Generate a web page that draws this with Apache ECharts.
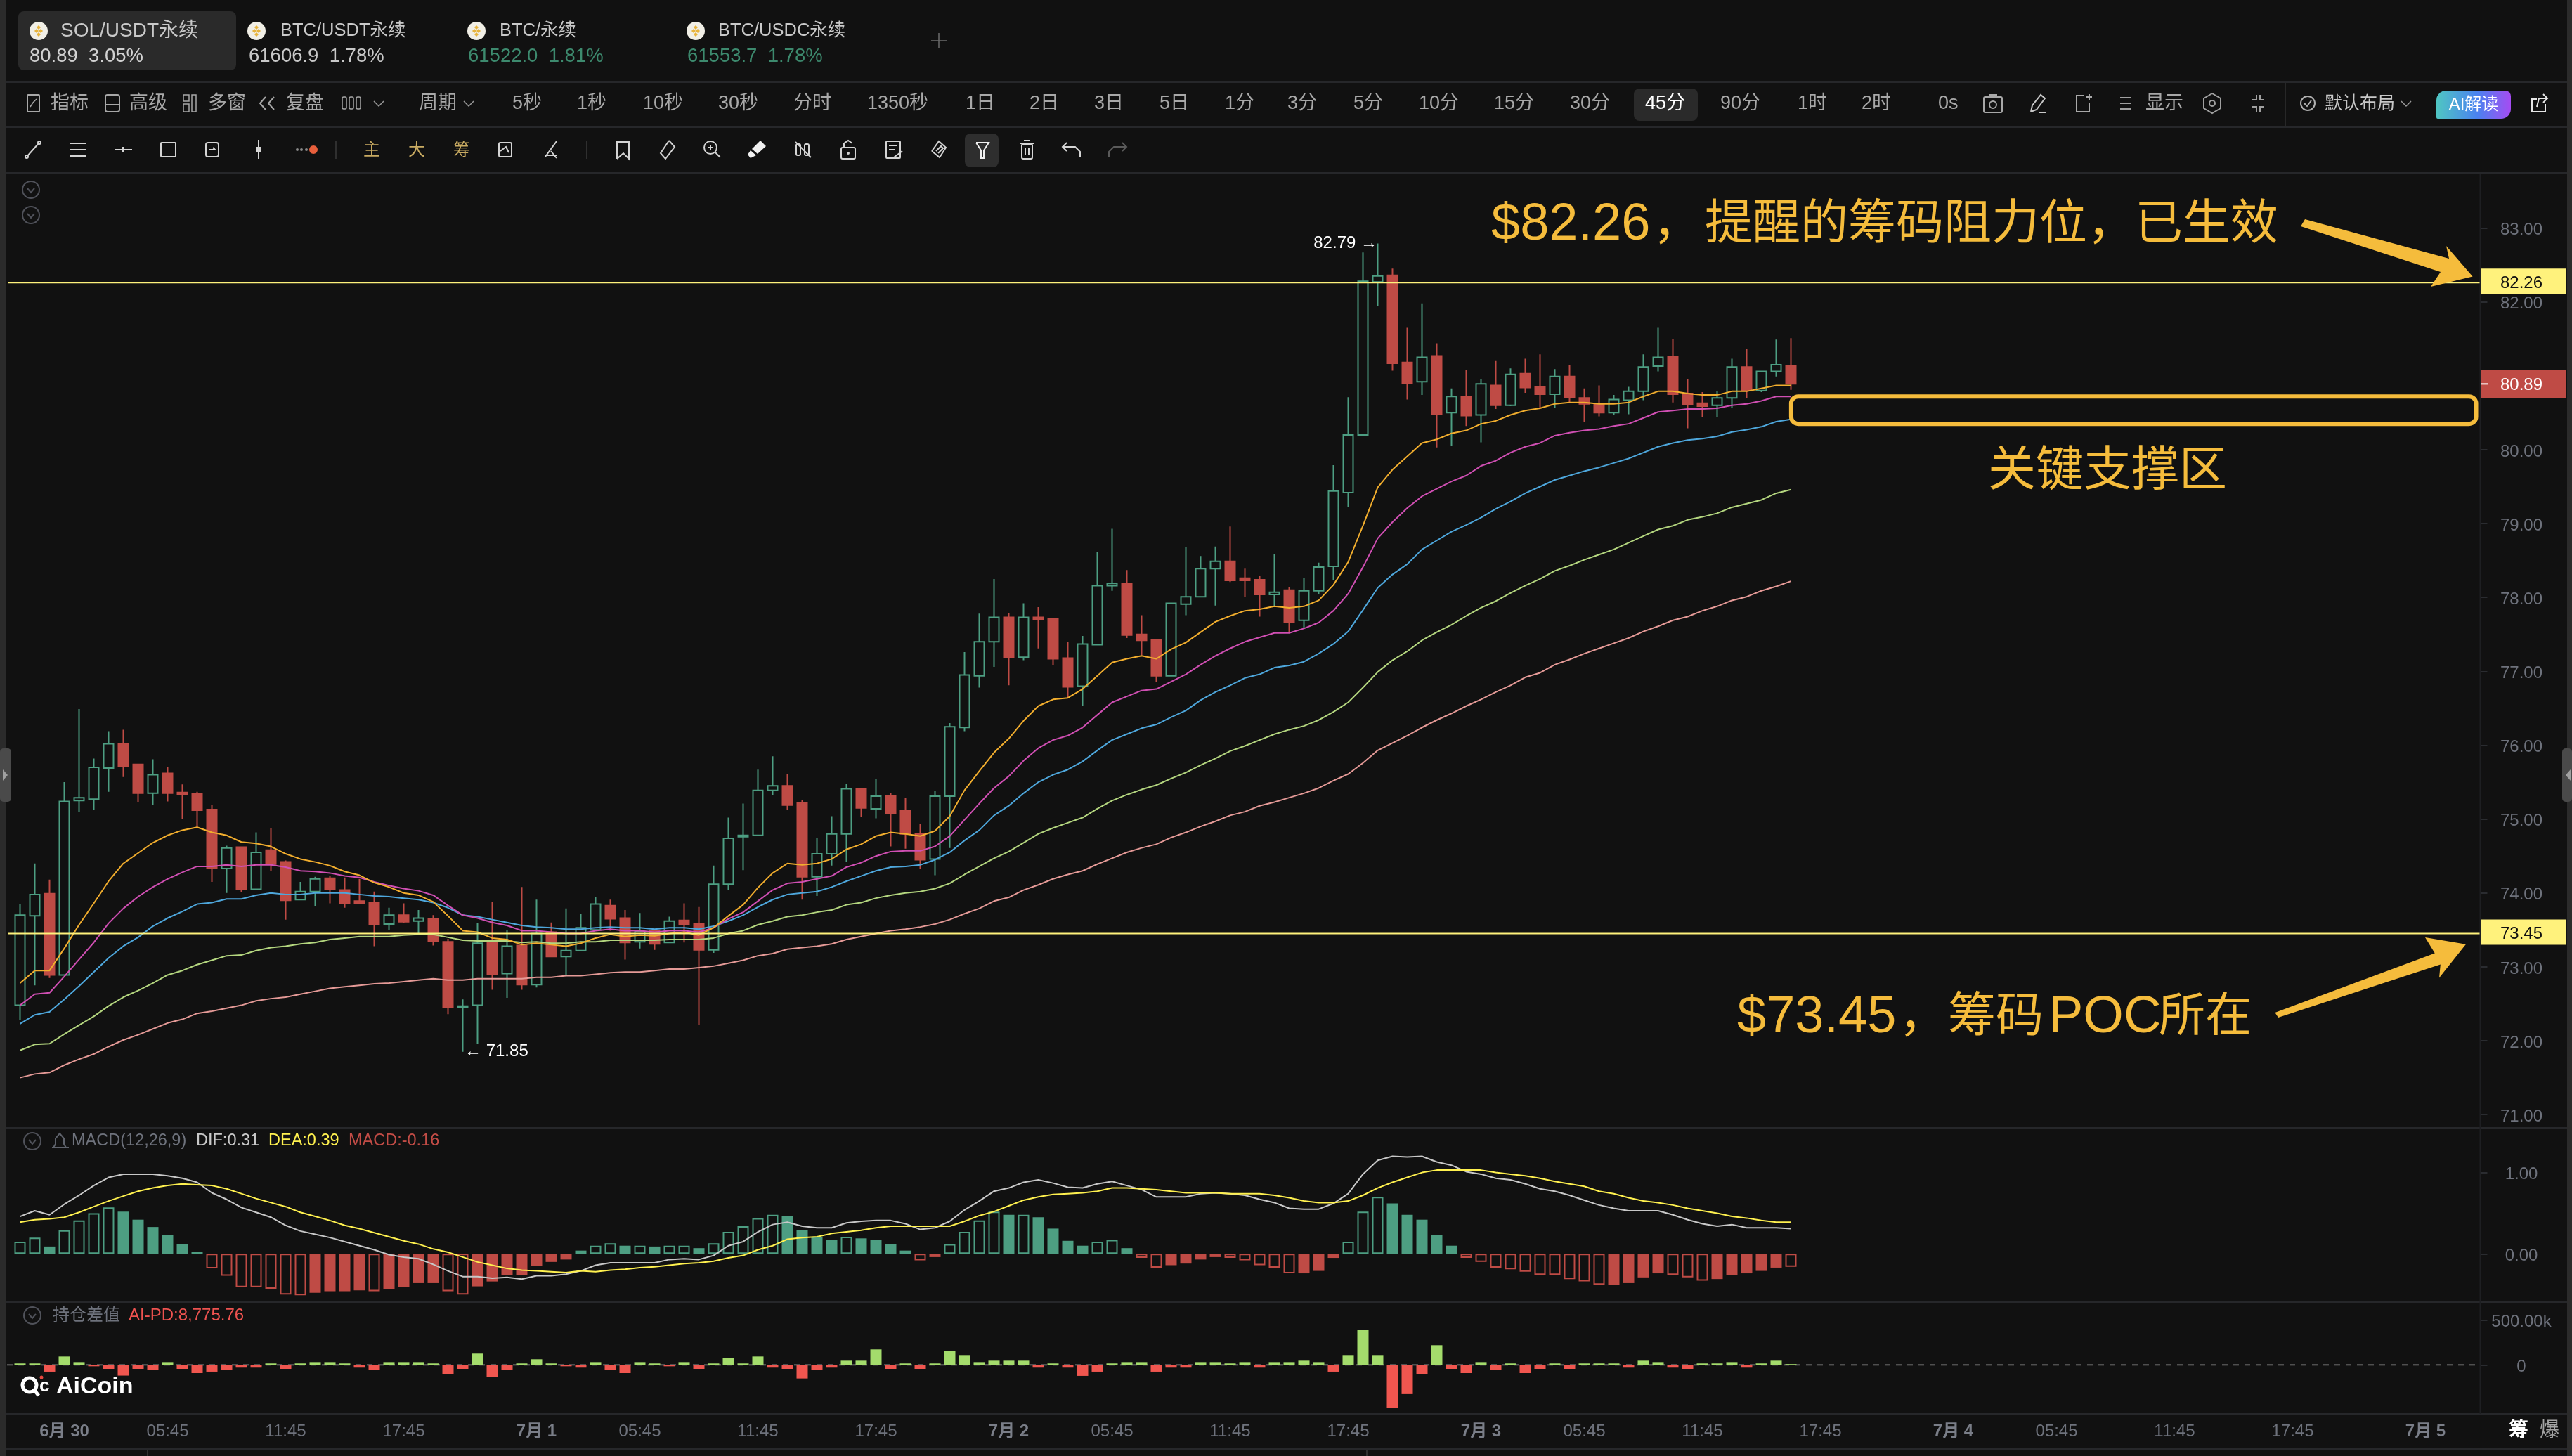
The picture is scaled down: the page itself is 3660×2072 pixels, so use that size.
<!DOCTYPE html>
<html lang="zh-CN">
<head>
<meta charset="utf-8">
<title>SOL/USDT永续 45分</title>
<script src="https://cdn.jsdelivr.net/npm/echarts@6/dist/echarts.min.js"></script>
<style>html,body{margin:0;padding:0;background:#111111}#chart{width:3660px;height:2072px}</style>
</head>
<body>
<div id="chart"></div>
<script>
// SOL/USDT perpetual, 45 minute candles: [open, close, low, high]
const candles = [
[72.48,73.70,72.28,73.85],[73.69,73.98,72.75,74.40],[73.99,72.89,72.85,74.18],[72.89,75.24,72.88,75.50],[75.25,75.29,75.10,76.49],
[75.27,75.70,75.12,75.82],[75.69,76.02,75.37,76.19],[76.02,75.72,75.57,76.21],[75.74,75.35,75.23,75.75],[75.35,75.60,75.19,75.81],
[75.62,75.35,75.24,75.70],[75.36,75.33,75.00,75.47],[75.34,75.12,74.88,75.37],[75.13,74.34,74.15,75.19],[74.33,74.61,74.00,74.64],
[74.62,74.05,74.01,74.63],[74.05,74.55,74.04,74.82],[74.58,74.39,74.30,74.88],[74.42,73.90,73.64,74.44],[73.91,74.02,73.90,74.15],
[74.02,74.19,73.82,74.22],[74.20,74.05,73.86,74.23],[74.04,73.86,73.80,74.21],[73.89,73.86,73.85,74.19],[73.87,73.57,73.28,74.02],
[73.58,73.70,73.50,73.80],[73.70,73.61,73.59,73.86],[73.62,73.66,73.45,73.77],[73.65,73.35,73.29,73.70],[73.34,72.45,72.36,73.38],
[72.45,72.47,71.85,72.56],[72.48,73.32,71.96,73.59],[73.35,72.90,72.69,73.88],[72.91,73.28,72.58,73.50],[73.29,72.76,72.69,74.08],
[72.76,73.45,72.72,73.91],[73.47,73.14,73.13,73.60],[73.14,73.22,72.89,73.79],[73.22,73.53,73.21,73.72],[73.50,73.85,73.49,73.95],
[73.83,73.65,73.49,73.91],[73.66,73.33,73.10,73.77],[73.34,73.48,73.25,73.73],[73.49,73.31,73.23,73.50],[73.33,73.62,73.32,73.68],
[73.63,73.57,73.33,73.86],[73.59,73.23,72.22,73.81],[73.23,74.12,73.19,74.37],[74.12,74.74,74.04,75.02],[74.76,74.78,74.31,75.21],
[74.78,75.39,74.77,75.67],[75.39,75.45,75.33,75.85],[75.45,75.19,75.12,75.61],[75.22,74.22,73.91,75.26],[74.22,74.53,73.96,74.75],
[74.53,74.80,74.37,75.04],[74.80,75.41,74.42,75.48],[75.41,75.15,75.03,75.42],[75.14,75.31,75.01,75.54],[75.32,75.08,74.63,75.35],
[75.11,74.80,74.60,75.29],[74.80,74.45,74.33,74.94],[74.46,75.31,74.24,75.38],[75.31,76.25,74.61,76.30],[76.24,76.95,76.19,77.26],
[76.94,77.40,76.78,77.78],[77.40,77.73,77.06,78.25],[77.73,77.19,76.81,77.79],[77.19,77.73,77.15,77.92],[77.73,77.70,77.31,77.87],
[77.71,77.17,77.09,77.72],[77.18,76.79,76.64,77.40],[76.80,77.37,76.53,77.48],[77.36,78.16,77.35,78.62],[78.16,78.19,78.09,78.93],
[78.19,77.49,77.45,78.37],[77.50,77.42,77.22,77.76],[77.43,76.94,76.86,77.44],[76.94,77.92,76.94,77.92],[77.91,78.01,77.76,78.68],
[78.01,78.39,78.00,78.56],[78.39,78.49,77.89,78.69],[78.49,78.23,78.21,78.96],[78.26,78.23,78.01,78.39],[78.24,78.04,77.74,78.29],
[78.04,78.07,77.88,78.59],[78.10,77.66,77.53,78.14],[77.69,78.09,77.59,78.26],[78.09,78.41,78.04,78.47],[78.42,79.44,78.24,79.79],
[79.42,80.20,79.22,80.71],[80.20,82.28,80.18,82.67],[82.27,82.35,81.95,82.79],[82.36,81.17,81.07,82.45],[81.18,80.90,80.68,81.65],
[80.92,81.25,80.74,81.98],[81.27,80.48,80.03,81.44],[80.50,80.72,80.05,80.83],[80.72,80.46,80.32,81.08],[80.47,80.89,80.10,80.96],
[80.87,80.60,80.55,81.20],[80.60,81.02,80.59,81.10],[81.03,80.84,80.77,81.23],[80.85,80.75,80.57,81.29],[80.75,80.99,80.57,81.09],
[80.99,80.71,80.64,81.14],[80.70,80.62,80.38,80.83],[80.62,80.50,80.45,80.87],[80.50,80.68,80.47,80.74],[80.67,80.79,80.48,80.85],
[80.79,81.12,80.67,81.29],[81.13,81.25,81.06,81.65],[81.26,80.75,80.64,81.50],[80.76,80.61,80.29,80.95],[80.63,80.59,80.44,80.78],
[80.60,80.70,80.44,80.79],[80.70,81.12,80.57,81.23],[81.12,80.80,80.70,81.37],[80.80,81.06,80.78,81.07],[81.06,81.15,80.99,81.49],
[81.14,80.89,80.81,81.51]
];

// Moving averages, shortest to longest period
const maOrange = [72.78,72.95,72.95,73.25,73.57,73.86,74.16,74.40,74.54,74.68,74.78,74.85,74.89,74.82,74.78,74.69,74.67,74.63,74.53,74.46,74.42,74.37,74.29,74.24,74.14,74.08,74.00,73.97,73.88,73.69,73.49,73.47,73.39,73.37,73.30,73.32,73.30,73.28,73.32,73.39,73.44,73.41,73.43,73.42,73.45,73.47,73.43,73.53,73.69,73.84,74.07,74.27,74.40,74.38,74.40,74.46,74.59,74.66,74.77,74.82,74.80,74.77,74.84,75.04,75.39,75.65,75.90,76.09,76.33,76.53,76.62,76.64,76.76,76.94,77.12,77.17,77.21,77.17,77.30,77.39,77.53,77.67,77.75,77.82,77.84,77.88,77.86,77.88,77.96,78.17,78.48,78.97,79.49,79.73,79.91,80.09,80.14,80.22,80.26,80.35,80.39,80.47,80.53,80.56,80.62,80.64,80.64,80.62,80.62,80.64,80.72,80.79,80.79,80.76,80.74,80.74,80.79,80.79,80.83,80.87,80.87];
const maMagenta = [72.48,72.63,72.65,72.87,73.10,73.33,73.59,73.79,73.95,74.08,74.19,74.28,74.36,74.36,74.38,74.36,74.38,74.38,74.35,74.30,74.29,74.27,74.23,74.21,74.15,74.10,74.06,74.03,73.97,73.83,73.70,73.66,73.60,73.56,73.49,73.49,73.47,73.45,73.45,73.49,73.51,73.49,73.49,73.47,73.49,73.49,73.47,73.53,73.65,73.74,73.89,74.04,74.13,74.15,74.19,74.23,74.35,74.41,74.50,74.56,74.57,74.57,74.63,74.77,74.99,75.21,75.42,75.58,75.79,75.96,76.07,76.13,76.24,76.41,76.58,76.66,76.74,76.76,76.86,76.96,77.09,77.21,77.31,77.40,77.46,77.52,77.52,77.58,77.66,77.82,78.05,78.41,78.80,79.02,79.21,79.37,79.47,79.57,79.65,79.78,79.85,79.96,80.04,80.09,80.19,80.23,80.26,80.28,80.32,80.35,80.43,80.51,80.53,80.55,80.55,80.56,80.60,80.62,80.66,80.72,80.72];
const maBlue = [72.23,72.35,72.39,72.56,72.74,72.93,73.12,73.28,73.40,73.55,73.66,73.75,73.85,73.87,73.92,73.92,73.97,74.00,73.98,73.98,74.00,74.00,74.00,73.98,73.96,73.95,73.93,73.91,73.87,73.80,73.70,73.68,73.64,73.60,73.56,73.54,73.53,73.51,73.51,73.53,73.54,73.53,73.53,73.51,73.53,73.53,73.51,73.55,73.62,73.70,73.81,73.91,73.98,74.00,74.02,74.08,74.16,74.23,74.30,74.35,74.36,74.38,74.45,74.55,74.71,74.85,75.05,75.18,75.35,75.50,75.60,75.67,75.78,75.93,76.07,76.15,76.23,76.28,76.38,76.47,76.61,76.72,76.81,76.91,76.96,77.05,77.08,77.13,77.24,77.37,77.54,77.83,78.13,78.31,78.45,78.65,78.77,78.89,78.98,79.08,79.20,79.30,79.41,79.50,79.59,79.65,79.71,79.76,79.82,79.88,79.96,80.04,80.09,80.13,80.15,80.18,80.24,80.27,80.31,80.38,80.41];
const maGreen = [71.87,71.95,71.96,72.09,72.21,72.33,72.47,72.59,72.68,72.78,72.89,72.95,73.03,73.09,73.15,73.16,73.22,73.26,73.28,73.31,73.33,73.37,73.39,73.41,73.41,73.41,73.43,73.44,73.44,73.40,73.36,73.35,73.35,73.35,73.33,73.34,73.32,73.32,73.34,73.34,73.36,73.36,73.36,73.36,73.37,73.37,73.37,73.39,73.45,73.49,73.57,73.62,73.68,73.70,73.74,73.77,73.84,73.87,73.93,73.97,74.00,74.02,74.06,74.13,74.25,74.36,74.47,74.56,74.68,74.80,74.88,74.95,75.02,75.14,75.25,75.33,75.40,75.46,75.55,75.63,75.73,75.82,75.92,75.99,76.07,76.15,76.21,76.26,76.34,76.45,76.58,76.78,76.99,77.15,77.27,77.42,77.53,77.63,77.75,77.86,77.95,78.06,78.16,78.25,78.36,78.43,78.51,78.58,78.65,78.74,78.83,78.92,78.97,79.05,79.09,79.14,79.22,79.27,79.32,79.41,79.46];
const maPink = [71.50,71.55,71.57,71.67,71.75,71.82,71.92,72.01,72.08,72.16,72.24,72.29,72.37,72.40,72.44,72.48,72.54,72.57,72.59,72.63,72.67,72.71,72.73,72.75,72.77,72.78,72.80,72.82,72.84,72.82,72.82,72.84,72.84,72.84,72.84,72.86,72.86,72.88,72.88,72.90,72.92,72.93,72.93,72.95,72.97,72.97,72.99,73.01,73.05,73.09,73.15,73.18,73.24,73.26,73.28,73.31,73.37,73.41,73.45,73.49,73.51,73.54,73.58,73.64,73.72,73.79,73.89,73.94,74.04,74.11,74.19,74.25,74.30,74.39,74.47,74.55,74.61,74.66,74.75,74.82,74.90,74.97,75.05,75.10,75.18,75.23,75.29,75.35,75.42,75.52,75.61,75.76,75.93,76.03,76.13,76.24,76.34,76.43,76.53,76.62,76.72,76.81,76.92,76.98,77.09,77.16,77.24,77.31,77.38,77.45,77.54,77.61,77.69,77.74,77.82,77.88,77.96,78.01,78.09,78.15,78.22];

// MACD(12,26,9)
const macdDif = [.46,.53,.48,.61,.72,.84,.94,.98,.98,.98,.96,.93,.88,.75,.67,.57,.51,.45,.35,.28,.24,.20,.15,.10,.05,-.01,-.04,-.06,-.13,-.21,-.28,-.28,-.30,-.29,-.31,-.27,-.27,-.25,-.21,-.14,-.11,-.11,-.11,-.11,-.07,-.06,-.07,-.02,.10,.15,.27,.36,.39,.34,.32,.32,.38,.40,.41,.41,.37,.30,.32,.40,.54,.65,.77,.81,.88,.91,.87,.82,.81,.86,.89,.84,.79,.70,.70,.70,.74,.75,.74,.72,.67,.63,.56,.55,.55,.62,.74,.98,1.15,1.20,1.19,1.20,1.13,1.09,1.01,.98,.93,.91,.86,.80,.77,.72,.66,.60,.56,.53,.53,.53,.48,.42,.37,.34,.36,.32,.32,.32,.31];
const macdDea = [.39,.42,.43,.45,.51,.58,.65,.71,.77,.81,.84,.86,.85,.84,.80,.74,.68,.63,.58,.51,.46,.41,.35,.31,.26,.21,.16,.12,.06,.02,-.04,-.10,-.14,-.18,-.20,-.21,-.22,-.23,-.21,-.22,-.20,-.19,-.17,-.16,-.14,-.12,-.11,-.09,-.05,-.02,.05,.10,.18,.20,.21,.25,.27,.29,.32,.34,.34,.34,.34,.34,.40,.47,.52,.59,.66,.70,.73,.74,.75,.77,.81,.81,.80,.79,.77,.75,.75,.75,.74,.74,.74,.72,.69,.65,.63,.63,.65,.72,.81,.88,.94,1.00,1.03,1.03,1.03,1.03,1.00,.98,.96,.93,.89,.86,.83,.77,.74,.69,.65,.63,.60,.56,.53,.50,.46,.44,.41,.39,.39];
const macdHist = [.15,.20,.09,.29,.41,.50,.57,.52,.42,.33,.23,.12,.02,-.18,-.27,-.41,-.41,-.43,-.50,-.51,-.48,-.46,-.46,-.45,-.46,-.43,-.41,-.36,-.36,-.46,-.50,-.40,-.34,-.26,-.26,-.15,-.10,-.07,.04,.10,.13,.10,.10,.09,.10,.10,.07,.13,.27,.34,.44,.48,.47,.29,.21,.17,.21,.19,.17,.12,.04,-.08,-.04,.12,.27,.41,.52,.48,.48,.45,.31,.16,.10,.15,.17,.07,-.05,-.17,-.14,-.12,-.07,-.04,-.05,-.08,-.14,-.17,-.24,-.24,-.21,-.05,.15,.52,.70,.62,.48,.42,.23,.10,-.05,-.10,-.17,-.19,-.22,-.26,-.26,-.31,-.34,-.38,-.38,-.36,-.29,-.24,-.26,-.29,-.33,-.31,-.26,-.24,-.21,-.17,-.16];
const macdHollow = [1,1,0,1,1,1,1,0,0,0,0,0,0,1,1,1,1,1,1,1,0,0,0,0,1,0,0,0,0,1,1,0,0,0,0,0,0,0,0,1,1,0,1,0,1,1,0,1,1,1,1,1,0,0,0,0,1,0,0,0,0,1,0,1,1,1,1,0,1,0,0,0,0,1,1,0,1,1,0,0,0,0,1,1,1,1,1,0,0,0,1,1,1,0,0,0,0,0,1,1,1,1,1,1,1,1,1,1,0,0,0,0,1,1,1,0,0,0,0,0,1];

// Open interest difference, in thousands
const positionDiff = [16,16,-76,94,31,-16,-45,-120,-45,-60,31,-45,-92,-76,-60,-31,-31,16,-45,16,31,31,16,-31,-60,31,31,31,16,-107,-45,126,-136,-60,16,63,16,-16,-31,31,-60,-92,31,16,-16,31,-45,16,79,16,94,-31,-45,-152,-60,-31,47,47,173,-45,16,-45,16,157,110,31,47,47,47,-31,16,-31,-123,-76,16,31,31,-76,-31,-31,31,31,16,31,-31,31,31,47,31,-76,110,393,110,-484,-327,-107,220,-45,-92,31,-60,16,-92,-45,16,-45,16,16,16,-31,47,31,-31,-45,16,16,31,-31,16,47,8.77576];

// Axis ticks and labels; the 81.00 slot sits under the last-price tag
const priceTicks = [83,82,80,79,78,77,76,75,74,73,72,71];
const macdTicks = [1,0];
const positionTicks = [500,0];
const categoryCount = 167;
const timeTickIndex = [3,10,18,26,35,42,50,58,67,74,82,90,99,106,114,122,131,138,146,154,163];
const timeTickText = ['6月 30','05:45','11:45','17:45','7月 1','05:45','11:45','17:45','7月 2','05:45','11:45','17:45','7月 3','05:45','11:45','17:45','7月 4','05:45','11:45','17:45','7月 5'];

// Levels called out on the chart
const resistanceLevel = 82.26;
const pocLevel = 73.45;
const lastPrice = 80.89;
const highPrice = 82.79;
const lowPrice = 71.85;
const supportZone = [80.72, 80.35];

const UP = '#4d9e82', DOWN = '#bf4b45', BG = '#111111', LEVEL = '#fff27c', NOTE = '#f5bc3c';
const AXIS_TEXT = '#6e727c', TOOL_TEXT = '#a8a8a8', ICON = '#d4d4d4', RULE = '#26272a';
const FONT = '"Liberation Sans","Noto Sans CJK SC",sans-serif';

const categories = Array.from({length: categoryCount}, (_, i) => {
  const at = timeTickIndex.indexOf(i);
  return at < 0 ? '' : timeTickText[at];
});

/* ---- Chrome helpers for the toolbars and annotations ---- */
const Z = 50;
const T = (text, x, y, fill, size, opt = {}) => ({
  type: 'text', z: opt.z || Z, silent: true,
  style: {
    text, x, y: y + 2, fill,
    font: (opt.bold ? 'bold ' : '') + size + 'px ' + (opt.family || FONT),
    textAlign: opt.align || 'left', align: opt.align || 'left',
    textVerticalAlign: 'middle', verticalAlign: 'middle'
  }
});
const R = (x, y, width, height, fill, r, stroke, lw) => ({
  type: 'rect', z: Z, silent: true, shape: {x, y, width, height, r: r || 0},
  style: {fill: fill || 'transparent', stroke: stroke || null, lineWidth: lw || 0}
});
const Ln = (x1, y1, x2, y2, stroke, lw) => ({
  type: 'line', z: Z, silent: true, shape: {x1, y1, x2, y2}, style: {stroke: stroke || ICON, lineWidth: lw || 2}
});
const Pl = (pts, stroke, lw) => ({
  type: 'polyline', z: Z, silent: true, shape: {points: pts}, style: {stroke: stroke || ICON, lineWidth: lw || 2, fill: null}
});
const Pg = (pts, fill) => ({
  type: 'polygon', z: Z, silent: true, shape: {points: pts}, style: {fill}
});
const Ci = (cx, cy, r, stroke, fill, lw) => ({
  type: 'circle', z: Z, silent: true, shape: {cx, cy, r}, style: {stroke: stroke || null, fill: fill || 'transparent', lineWidth: lw || 2}
});
const chevron = (x, y, c) => Pl([[x - 7, y - 3], [x, y + 4], [x + 7, y - 3]], c || '#9a9a9a', 1.5);
const foldIcon = (x, y) => [Ci(x, y, 12, '#50525a', null, 2), Pl([[x - 5, y - 2], [x, y + 4], [x + 5, y - 2]], '#50525a', 2)];
const coin = (x, y) => [
  Ci(x, y, 13, null, '#f1efe6'),
  Pg([[x, y - 8], [x + 3, y - 5], [x, y - 2], [x - 3, y - 5]], '#e8b43c'),
  Pg([[x, y + 8], [x + 3, y + 5], [x, y + 2], [x - 3, y + 5]], '#e8b43c'),
  Pg([[x - 6, y], [x - 3, y - 3], [x, y], [x - 3, y + 3]], '#e8b43c'),
  Pg([[x + 6, y], [x + 3, y - 3], [x, y], [x + 3, y + 3]], '#e8b43c')
];

const tabs = [
  {icon: 55, name: 'SOL/USDT永续', size: 28, nameX: 86, value: '80.89  3.05%', valueX: 42, color: '#d2d2d2'},
  {icon: 365, name: 'BTC/USDT永续', size: 25.5, nameX: 399, value: '61606.9  1.78%', valueX: 354, color: '#c8c8c8'},
  {icon: 678, name: 'BTC/永续', size: 25.5, nameX: 711, value: '61522.0  1.81%', valueX: 666, color: '#3d8a6e'},
  {icon: 990, name: 'BTC/USDC永续', size: 25.5, nameX: 1022, value: '61553.7  1.78%', valueX: 978, color: '#3d8a6e'}
];
const rowTwoLabels = [['指标',72],['高级',184],['多窗',296],['复盘',407],['周期',596],['5秒',729],['1秒',821],['10秒',915],['30秒',1022],['分时',1129],['1350秒',1234],['1日',1374],['2日',1465],['3日',1557],['5日',1650],['1分',1743],['3分',1832],['5分',1926],['10分',2019],['15分',2126],['30分',2234],['90分',2448],['1时',2558],['2时',2649],['0s',2758],['显示',3053]];
const Y2 = 147, Y3 = 213;

const chrome = [];
const add = (...els) => els.forEach(e => Array.isArray(e) ? chrome.push(...e) : chrome.push(e));

// Frame rails and panel rules
add(R(0, 0, 8, 2072, '#2b2b2b'), R(3653, 0, 7, 2072, '#2b2b2b'),
    R(0, 1065, 16, 76, '#4a4a4a', 5), Pg([[4, 1095], [11, 1103], [4, 1111]], '#a0a0a0'),
    R(3646, 1065, 14, 76, '#4a4a4a', 5), Pg([[3658, 1095], [3651, 1103], [3658, 1111]], '#a0a0a0'));
[116, 180, 246, 1605, 1852, 2012, 2062].forEach(y => add(R(8, y - 1, 3645, 3, RULE)));
add(Ln(3529.5, 247, 3529.5, 2012, '#1e1f22', 2), Ln(3252, 118, 3252, 180, '#2f2f2f', 1.5),
    Ln(210, 2064, 210, 2072, '#3a3a3a', 1.5), Ln(1945, 2064, 1945, 2072, '#3a3a3a', 1.5));

// Symbol tabs
add(R(26, 16, 310, 84, '#2a2a2a', 8));
tabs.forEach(t => add(coin(t.icon, 44), T(t.name, t.nameX, 42, '#c9c9c9', t.size), T(t.value, t.valueX, 78, t.color, 27.5)));
add(Ln(1336, 47, 1336, 68, '#6d6d6d', 1.5), Ln(1325, 58, 1347, 58, '#6d6d6d', 1.5));

// Period and tool row
add(R(2325, 126, 91, 46, '#2a2a2a', 8));
rowTwoLabels.forEach(([s, x]) => add(T(s, x, Y2 - 1, TOOL_TEXT, 27)));
add(T('45分', 2341, Y2 - 1, '#ffffff', 27), T('默认布局', 3308, Y2 - 1, '#c8c8c8', 25));
add(R(39, Y2 - 12, 17, 24, null, 1, '#a8a8a8', 2), Pl([[43, Y2 + 5], [47, Y2 - 1], [52, Y2 - 6]], '#a8a8a8', 1.5),
    R(150, Y2 - 12, 20, 24, null, 3, '#a8a8a8', 2), Ln(150, Y2 + 2, 170, Y2 + 2, '#a8a8a8', 2),
    R(261, Y2 - 12, 8, 9, null, 0, '#a8a8a8', 1.5), R(261, Y2 + 1, 8, 11, null, 0, '#a8a8a8', 1.5), R(273, Y2 - 12, 6, 24, null, 0, '#a8a8a8', 1.5),
    Pl([[378, Y2 - 9], [370, Y2], [378, Y2 + 9]], '#a8a8a8', 2), Pl([[390, Y2 - 9], [382, Y2], [390, Y2 + 9]], '#a8a8a8', 2),
    R(487, Y2 - 9, 6, 17, null, 2, '#a8a8a8', 1.5), R(497, Y2 - 9, 6, 17, null, 2, '#a8a8a8', 1.5), R(507, Y2 - 9, 6, 17, null, 2, '#a8a8a8', 1.5),
    chevron(539, Y2), chevron(667, Y2), chevron(3424, Y2));
add(R(2823, Y2 - 9, 26, 22, null, 2, '#a8a8a8', 2), Ci(2836, Y2 + 2, 5, '#a8a8a8'), Ln(2830, Y2 - 12, 2842, Y2 - 12, '#a8a8a8', 2),
    Pl([[2890, Y2 + 12], [2892, Y2 + 3], [2904, Y2 - 12], [2910, Y2 - 7], [2898, Y2 + 9], [2890, Y2 + 12]], '#c8c8c8', 2), Ln(2901, Y2 + 13, 2912, Y2 + 13, '#c8c8c8', 2),
    Pl([[2966, Y2 - 11], [2955, Y2 - 11], [2955, Y2 + 12], [2973, Y2 + 12], [2973, Y2]], '#a8a8a8', 2), Ln(2973, Y2 - 13, 2973, Y2 - 5, '#a8a8a8', 2), Ln(2969, Y2 - 9, 2977, Y2 - 9, '#a8a8a8', 2),
    Ln(3017, Y2 - 8, 3033, Y2 - 8, '#a0a0a0', 2), Ln(3017, Y2, 3033, Y2, '#a0a0a0', 2), Ln(3017, Y2 + 8, 3033, Y2 + 8, '#a0a0a0', 2),
    Pl([[3148, Y2 - 14], [3160, Y2 - 7], [3160, Y2 + 7], [3148, Y2 + 14], [3136, Y2 + 7], [3136, Y2 - 7], [3148, Y2 - 14]], '#a0a0a0', 2), Ci(3148, Y2, 4, '#a0a0a0'),
    Pl([[3205, Y2 - 5], [3211, Y2 - 5], [3211, Y2 - 12]], '#a0a0a0', 2), Pl([[3222, Y2 - 5], [3216, Y2 - 5], [3216, Y2 - 12]], '#a0a0a0', 2),
    Pl([[3205, Y2 + 5], [3211, Y2 + 5], [3211, Y2 + 12]], '#a0a0a0', 2), Pl([[3222, Y2 + 5], [3216, Y2 + 5], [3216, Y2 + 12]], '#a0a0a0', 2),
    Ci(3284, Y2, 10, '#b0b0b0'), Pl([[3279, Y2], [3283, Y2 + 4], [3289, Y2 - 4]], '#b0b0b0', 2));
add({
  type: 'rect', z: Z, silent: true, shape: {x: 3467, y: 129, width: 106, height: 40, r: [14, 8, 14, 2]},
  style: {fill: {type: 'linear', x: 0, y: 0, x2: 1, y2: 0, colorStops: [{offset: 0, color: '#4fc6c2'}, {offset: .55, color: '#4a82f0'}, {offset: 1, color: '#a54cf2'}]}}
}, T('AI解读', 3520, 147, '#ffffff', 24, {align: 'center'}));
add(Pl([[3622, Y2 + 1], [3622, Y2 + 12], [3603, Y2 + 12], [3603, Y2 - 6], [3610, Y2 - 6]], '#e6e6e6', 2),
    Pl([[3610, Y2 + 5], [3613, Y2 - 7], [3625, Y2 - 7]], '#e6e6e6', 2), Pl([[3619, Y2 - 13], [3625, Y2 - 7], [3619, Y2 - 1]], '#e6e6e6', 2));

// Drawing tools row
add(R(1373, 190, 48, 48, '#2e2e2e', 8));
add(Ln(39, Y3 + 9, 55, Y3 - 9), Ci(38, Y3 + 10, 2, ICON), Ci(56, Y3 - 10, 2, ICON),
    Ln(100, Y3 - 9, 122, Y3 - 9), Ln(100, Y3, 122, Y3), Ln(100, Y3 + 9, 122, Y3 + 9),
    Ln(163, Y3, 188, Y3), Ln(175, Y3 - 4, 175, Y3 + 4),
    R(229, Y3 - 10, 21, 20, null, 1, ICON, 2),
    R(293, Y3 - 10, 18, 20, null, 3, ICON, 2), Pl([[298, Y3], [306, Y3], [303, Y3 - 3]], ICON, 2),
    Ln(368, Y3 - 14, 368, Y3 + 13), R(365, Y3 - 4, 6, 7, ICON),
    Ci(436, Y3, 1, '#8a8a8a', '#8a8a8a'), Ci(423, Y3, 1, '#8a8a8a', '#8a8a8a'), Ci(429, Y3, 1, '#8a8a8a', '#8a8a8a'), Ci(446, Y3, 6, null, '#e85f3c'),
    Ln(478, Y3 - 13, 478, Y3 + 13, '#3a3a3a', 1.5), Ln(835, Y3 - 13, 835, Y3 + 13, '#3a3a3a', 1.5));
[['主', 529], ['大', 593], ['筹', 657]].forEach(([s, x]) => add(T(s, x, Y3 - 1, '#c9ab62', 24, {align: 'center'})));
add(R(710, Y3 - 10, 18, 20, null, 2, ICON, 2), Pl([[712, Y3 + 2], [720, Y3 - 4], [724, Y3 + 4]], ICON, 2),
    Ln(776, Y3 + 10, 792, Y3 - 12), Ln(776, Y3 + 8, 792, Y3 + 8), Ln(784, Y3 + 2, 792, Y3 + 12),
    Pl([[878, Y3 + 13], [878, Y3 - 11], [895, Y3 - 11], [895, Y3 + 13], [887, Y3 + 5], [878, Y3 + 13]], ICON, 2),
    Pl([[952, Y3 - 13], [960, Y3 - 4], [947, Y3 + 13], [940, Y3 + 5], [952, Y3 - 13]], ICON, 2),
    Ci(1011, Y3 - 3, 9, ICON), Ln(1018, Y3 + 4, 1025, Y3 + 11), Ln(1007, Y3 - 3, 1015, Y3 - 3), Ln(1011, Y3 - 7, 1011, Y3 + 1),
    Pg([[1082, Y3 - 13], [1090, Y3 - 5], [1078, Y3 + 6], [1070, Y3 - 1]], '#f0f0f0'), Pg([[1068, Y3 + 1], [1076, Y3 + 8], [1068, Y3 + 12], [1064, Y3 + 7]], '#f0f0f0'),
    R(1133, Y3 - 8, 6, 16, null, 2, ICON, 2), R(1145, Y3 - 8, 6, 16, null, 2, ICON, 2), Ln(1132, Y3 - 11, 1154, Y3 + 11),
    R(1197, Y3 - 3, 20, 16, null, 2, ICON, 2), Pl([[1201, Y3 - 3], [1201, Y3 - 9], [1207, Y3 - 13], [1213, Y3 - 9]], ICON, 2), Ci(1207, Y3 + 5, 1, ICON, ICON),
    R(1261, Y3 - 12, 20, 24, null, 1, ICON, 2), Ln(1265, Y3 - 6, 1277, Y3 - 6), Ln(1265, Y3, 1273, Y3), Ln(1272, Y3 + 11, 1284, Y3 + 2),
    Pl([[1326, Y3 + 2], [1336, Y3 - 12], [1346, Y3 - 3], [1337, Y3 + 11], [1326, Y3 + 2]], ICON, 2), Pl([[1332, Y3 + 2], [1339, Y3 - 5], [1342, Y3 - 2], [1335, Y3 + 5]], ICON, 2),
    Pl([[1389, Y3 - 10], [1407, Y3 - 10], [1400, Y3 + 1], [1400, Y3 + 12], [1396, Y3 + 12], [1396, Y3 + 1], [1389, Y3 - 10]], '#f0f0f0', 2),
    R(1454, Y3 - 8, 15, 21, null, 2, ICON, 2), Ln(1451, Y3 - 9, 1472, Y3 - 9), Ln(1457, Y3 - 13, 1466, Y3 - 13), Ln(1459, Y3 - 3, 1459, Y3 + 8), Ln(1464, Y3 - 3, 1464, Y3 + 8),
    Pl([[1518, Y3 - 10], [1512, Y3 - 4], [1518, Y3 + 2]], ICON, 2), Pl([[1512, Y3 - 4], [1530, Y3 - 4], [1537, Y3 + 3], [1537, Y3 + 11]], ICON, 2),
    Pl([[1597, Y3 - 10], [1603, Y3 - 4], [1597, Y3 + 2]], '#5a5a5a', 2), Pl([[1603, Y3 - 4], [1585, Y3 - 4], [1578, Y3 + 3], [1578, Y3 + 11]], '#5a5a5a', 2));

// Collapse toggles and indicator legends
add(foldIcon(44, 270), foldIcon(44, 306), foldIcon(46, 1624), foldIcon(46, 1872));
add(Pl([[76, 1633], [79, 1628], [79, 1620], [85, 1613], [91, 1620], [91, 1628], [94, 1633], [76, 1633]], '#5f636c', 2), Ln(74, 1633, 98, 1633, '#5f636c', 2));
add(T('MACD(12,26,9)', 102, 1622, AXIS_TEXT, 23.5),
    T('DIF:0.31', 279, 1622, '#c8c8c8', 23.5),
    T('DEA:0.39', 382, 1622, '#fff14f', 23.5),
    T('MACD:-0.16', 496, 1622, '#c24c46', 23.5),
    T('持仓差值', 75, 1870, AXIS_TEXT, 24),
    T('AI-PD:8,775.76', 183, 1870, '#ee5350', 24));

// Watermark
add(Ci(42, 1971, 10, '#ffffff', null, 5), Ln(48, 1977, 55, 1986, '#ffffff', 5),
    T('c', 56, 1971, '#ffffff', 26, {bold: true}), Ci(59, 1960, 2.5, null, '#e5483e'),
    T('AiCoin', 80, 1972, '#ffffff', 34, {bold: true}));

// Bottom right shortcuts
add(T('筹', 3584, 2034, '#ffffff', 28, {align: 'center', bold: true}), T('爆', 3628, 2034, '#a4a4a4', 28, {align: 'center'}));

// Hand-placed call-outs over the price panel
add(T('$82.26', 2122, 319, NOTE, 74), T('，', 2352, 319, NOTE, 68),
    T('提醒的筹码阻力位，已生效', 2426, 319, NOTE, 68));
add(Pg([[3280, 312], [3485, 368], [3481, 350], [3518.6, 393.5], [3459, 408], [3473, 387], [3274, 322]], NOTE));
add(T('关键支撑区', 2999, 670, NOTE, 68, {align: 'center'}));
add(T('$73.45', 2472, 1447, NOTE, 74), T('，', 2702, 1447, NOTE, 68), T('筹码', 2772, 1447, NOTE, 68),
    T('POC', 2915, 1447, NOTE, 74), T('所在', 3072, 1447, NOTE, 66));
add(Pg([[3237.4, 1441], [3464.8, 1356.5], [3451, 1334], [3509, 1343.7], [3471, 1391.6], [3472.8, 1372.4], [3242, 1448]], NOTE));

/* ---- Price tags pinned to the right-hand scale ---- */
function tagItem(params, api) {
  const y = api.coord([1, api.value(0)])[1];
  const red = api.value(1) === 1;
  const top = y - 20;
  const kids = [
    {type: 'rect', shape: {x: 3529, y: top, width: 122, height: red ? 40 : 36}, style: {fill: red ? DOWN : LEVEL}},
    {type: 'text', style: {text: api.value(0).toFixed(2), x: 3588, y: top + (red ? 22 : 21), fill: red ? '#ffffff' : '#111111', font: '24px ' + FONT, textAlign: 'center', align: 'center', textVerticalAlign: 'middle', verticalAlign: 'middle'}}
  ];
  if (red) kids.push({type: 'rect', shape: {x: 3529, y: y - 1, width: 11, height: 2}, style: {fill: '#ffffff'}});
  return {type: 'group', children: kids};
}
function zoneItem(params, api) {
  const a = api.coord([api.value(0), api.value(2)]);
  const b = api.coord([api.value(1), api.value(3)]);
  return {type: 'rect', shape: {x: a[0], y: a[1], width: b[0] - a[0], height: b[1] - a[1], r: 10},
          style: {fill: 'transparent', stroke: NOTE, lineWidth: 6}};
}

const lineSeries = (data, color) => ({
  type: 'line', xAxisIndex: 0, yAxisIndex: 0, data, z: 4, symbol: 'none', smooth: false, silent: true,
  lineStyle: {color, width: 2}, animation: false
});
const macdLine = (data, color) => ({
  type: 'line', xAxisIndex: 1, yAxisIndex: 1, data, z: 4, symbol: 'none', silent: true,
  lineStyle: {color, width: 2}, animation: false
});
const extremeLabel = (text, position, distance) => ({
  formatter: text, position, distance, show: true, color: '#ffffff', fontSize: 24, fontFamily: FONT
});
// Tick marks live on the data axes; their numbers sit on a sibling axis nudged down to centre the digits
const tickAxis = (idx, min, max, ticks) => ({
  type: 'value', gridIndex: idx, position: 'right', offset: 4.5, min, max, silent: true,
  splitLine: {show: false}, axisLine: {show: false}, axisLabel: {show: false},
  axisTick: {show: true, length: 10, lineStyle: {color: '#2a2c30', width: 2}, customValues: ticks}
});
const labelAxis = (idx, min, max, ticks, fmt) => ({
  type: 'value', gridIndex: idx, position: 'right', offset: 4.5, min, max, silent: true,
  splitLine: {show: false}, axisLine: {show: false}, axisTick: {show: false},
  axisLabel: {show: true, customValues: ticks, formatter: fmt, color: AXIS_TEXT, fontSize: 24, fontFamily: FONT, margin: 58.5, align: 'center'}
});
const hiddenX = (idx, showLabels) => ({
  type: 'category', gridIndex: idx, data: categories, boundaryGap: true, silent: true,
  axisLine: {show: false}, axisTick: {show: false}, splitLine: {show: false},
  axisLabel: showLabels ? {
    show: true, interval: 0, margin: 19, color: AXIS_TEXT, fontSize: 24, fontFamily: FONT, hideOverlap: false,
    formatter: v => v === '' ? '' : (v.includes('月') ? '{m|' + v + '}' : v),
    rich: {m: {fontWeight: 'bold', color: '#7a7e88', fontSize: 24, fontFamily: FONT}}
  } : {show: false}
});
const overlayX = idx => ({type: 'value', gridIndex: idx, min: 0, max: 1, show: false});
const overlayY = (idx, min, max) => ({type: 'value', gridIndex: idx, min, max, show: false});
const price2 = v => v.toFixed(2);
const positionLabel = v => v === 0 ? '0' : v.toFixed(2) + 'k';

const chart = echarts.init(document.getElementById('chart'), null, {renderer: 'canvas', devicePixelRatio: 1});
chart.setOption({
  animation: false,
  backgroundColor: BG,
  graphic: {elements: chrome},
  grid: [
    {left: 18, width: 3507, top: 324.5, height: 1261.7},
    {left: 18, width: 3507, top: 1610.75, height: 242.95},
    {left: 18, width: 3507, top: 1878.7, height: 127.2},
    {left: 11, width: 3518.5, top: 324.5, height: 1261.7},
    {left: 10, width: 3512, top: 1878.7, height: 127.2},
    {left: 18, width: 3507, top: 327.5, height: 1261.7},
    {left: 18, width: 3507, top: 1613.75, height: 242.95},
    {left: 18, width: 3507, top: 1881.7, height: 127.2}
  ],
  xAxis: [hiddenX(0), hiddenX(1), hiddenX(2, true), overlayX(3), overlayX(4), overlayX(5), overlayX(6), overlayX(7)],
  yAxis: [
    tickAxis(0, 71, 83, priceTicks),
    tickAxis(1, -0.6, 1.5, macdTicks),
    tickAxis(2, -500, 500, positionTicks),
    overlayY(3, 71, 83),
    overlayY(4, -500, 500),
    labelAxis(5, 71, 83, priceTicks, price2),
    labelAxis(6, -0.6, 1.5, macdTicks, price2),
    labelAxis(7, -500, 500, positionTicks, positionLabel)
  ],
  series: [
    {
      type: 'candlestick', xAxisIndex: 0, yAxisIndex: 0, data: candles, barWidth: 15, z: 3, silent: true, clip: false,
      itemStyle: {color: BG, color0: DOWN, borderColor: UP, borderColor0: DOWN, borderWidth: 2},
      markPoint: {
        symbol: 'circle', symbolSize: 1, silent: true, itemStyle: {color: 'transparent'},
        data: [
          {coord: [92, highPrice], label: extremeLabel(highPrice.toFixed(2) + ' →', 'left', 0)},
          {coord: [30, lowPrice], label: extremeLabel('← ' + lowPrice.toFixed(2), 'right', 2)}
        ]
      }
    },
    lineSeries(maPink, '#e59a97'),
    lineSeries(maGreen, '#b4d67f'),
    lineSeries(maBlue, '#4ea7dc'),
    lineSeries(maMagenta, '#d04fb3'),
    lineSeries(maOrange, '#f2ae2e'),
    {
      type: 'line', xAxisIndex: 3, yAxisIndex: 3, z: 6, symbol: 'none', silent: true,
      data: [[0, resistanceLevel], [1, resistanceLevel]], lineStyle: {color: LEVEL, width: 2}
    },
    {
      type: 'line', xAxisIndex: 3, yAxisIndex: 3, z: 6, symbol: 'none', silent: true,
      data: [[0, pocLevel], [1, pocLevel]], lineStyle: {color: LEVEL, width: 2}
    },
    {
      type: 'custom', xAxisIndex: 3, yAxisIndex: 3, z: 7, silent: true, renderItem: zoneItem,
      data: [[0.7213, 0.9983, supportZone[0], supportZone[1]]], encode: {x: [0, 1], y: [2, 3]}
    },
    {
      type: 'custom', xAxisIndex: 3, yAxisIndex: 3, z: 8, silent: true, renderItem: tagItem, clip: false,
      data: [[resistanceLevel, 0], [pocLevel, 0], [lastPrice, 1]], encode: {y: 0}
    },
    {
      type: 'bar', xAxisIndex: 1, yAxisIndex: 1, barWidth: 16, z: 3, silent: true,
      data: macdHist.map((v, i) => {
        const c = v >= 0 ? UP : DOWN;
        return {value: v, itemStyle: macdHollow[i] ? {color: BG, borderColor: c, borderWidth: 2} : {color: c}};
      })
    },
    macdLine(macdDif, '#c8c8c8'),
    macdLine(macdDea, '#fff14f'),
    {
      type: 'line', xAxisIndex: 4, yAxisIndex: 4, z: 2, symbol: 'none', silent: true,
      data: [[0, 0], [1, 0]], lineStyle: {color: '#6a6a6a', width: 2, type: [8, 8]}
    },
    {
      type: 'bar', xAxisIndex: 2, yAxisIndex: 2, barWidth: 16, z: 3, silent: true,
      data: positionDiff.map(v => ({value: v, itemStyle: {color: v >= 0 ? '#a4dc6c' : '#f0564f'}}))
    }
  ]
});
</script>
</body>
</html>
